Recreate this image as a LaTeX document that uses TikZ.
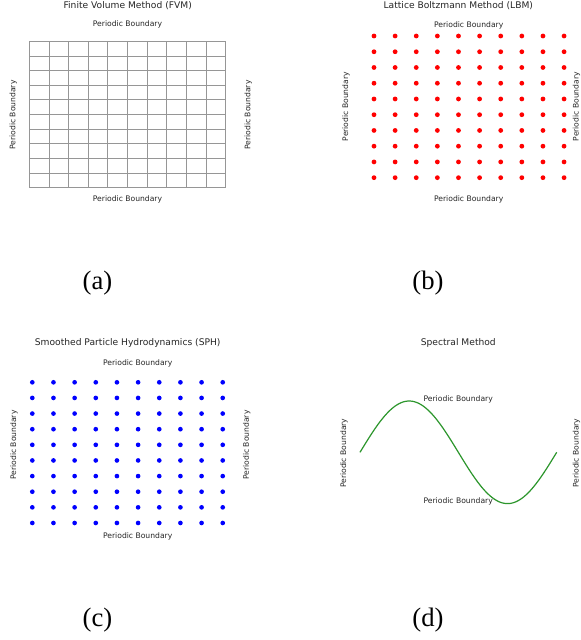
\documentclass[tikz,border=0pt]{standalone}
\usepackage{fontspec}
\setmainfont{Liberation Serif}
\newfontfamily\dv{DejaVu Sans}
\definecolor{gridgray}{RGB}{150,150,150}
\definecolor{dotred}{RGB}{255,0,0}
\definecolor{dotblue}{RGB}{0,0,255}
\definecolor{curvegreen}{RGB}{44,150,44}
\tikzset{
  lbl/.style={font=\dv\fontsize{5.72}{6.9}\selectfont, inner sep=0pt, text=black!85},
  ttl/.style={font=\dv\fontsize{6.86}{8.2}\selectfont, inner sep=0pt, text=black!85},
  capt/.style={font=\fontsize{20}{24}\selectfont, inner sep=0pt},
  gridline/.style={draw=gridgray, line width=0.6pt},
  rdot/.style={fill=dotred},
  bdot/.style={fill=dotblue},
  wave/.style={draw=curvegreen, line width=0.9pt},
}
\begin{document}
\begin{tikzpicture}[x=0.75pt, y=-0.75pt]
\clip (0,0) rectangle (581,640);
\useasboundingbox (0,0) rectangle (581,640);
\fill[white] (0,0) rectangle (581,640);

% ---------- (a) FVM ----------
\node[ttl] (ta) at (127.7,6) {Finite Volume Method (FVM)};
\node[lbl] (atop) at (127.5,24.3) {Periodic Boundary};
\node[lbl] (abot) at (127.5,199.7) {Periodic Boundary};
\node[lbl, rotate=90] (aleft) at (13.3,115) {Periodic Boundary};
\node[lbl, rotate=90] (aright) at (248.3,115) {Periodic Boundary};
\foreach \i in {0,...,10} {
  \draw[gridline] ({29.3+\i*19.64},41.3) -- ({29.3+\i*19.64},187.7);
  \draw[gridline] (29.3,{41.3+\i*14.64}) -- (225.7,{41.3+\i*14.64});
}
\node[capt] (capa) at (97.5,283) {(a)};

% ---------- (b) LBM ----------
\node[ttl] (tb) at (458.3,5.7) {Lattice Boltzmann Method (LBM)};
\node[lbl] (btop) at (468.7,25.7) {Periodic Boundary};
\node[lbl] (bbot) at (468.7,199) {Periodic Boundary};
\node[lbl, rotate=90] (bleft) at (346,106.7) {Periodic Boundary};
\node[lbl, rotate=90] (bright) at (576.6,106.7) {Periodic Boundary};
\foreach \i in {0,...,9} {
  \foreach \j in {0,...,9} {
    \fill[rdot] ({374+\i*21.12},{36+\j*15.74}) circle[radius=1.8pt];
  }
}
\node[capt] (capb) at (428,283) {(b)};

% ---------- (c) SPH ----------
\node[ttl] (tc) at (127.7,343.3) {Smoothed Particle Hydrodynamics (SPH)};
\node[lbl] (ctop) at (137.7,363.7) {Periodic Boundary};
\node[lbl] (cbot) at (137.7,536.7) {Periodic Boundary};
\node[lbl, rotate=90] (cleft) at (14,445) {Periodic Boundary};
\node[lbl, rotate=90] (cright) at (246.7,445) {Periodic Boundary};
\foreach \i in {0,...,9} {
  \foreach \j in {0,...,9} {
    \fill[bdot] ({32.3+\i*21.16},{382.3+\j*15.63}) circle[radius=1.75pt];
  }
}
\node[capt] (capc) at (97.5,620) {(c)};

% ---------- (d) Spectral ----------
\node[ttl] (td) at (458.3,343.3) {Spectral Method};
\draw[wave] plot[domain=0:360, samples=120, smooth] ({360+\x/360*196.7}, {452.3-51.3*sin(\x)});
\node[lbl, anchor=west] (dtop) at (423.3,399.3) {Periodic Boundary};
\node[lbl, anchor=west] (dbot) at (423.3,501) {Periodic Boundary};
\node[lbl, rotate=90] (dleft) at (344,453.3) {Periodic Boundary};
\node[lbl, rotate=90] (dright) at (576.6,453.3) {Periodic Boundary};
\node[capt] (capd) at (428,620) {(d)};
\end{tikzpicture}
\end{document}
